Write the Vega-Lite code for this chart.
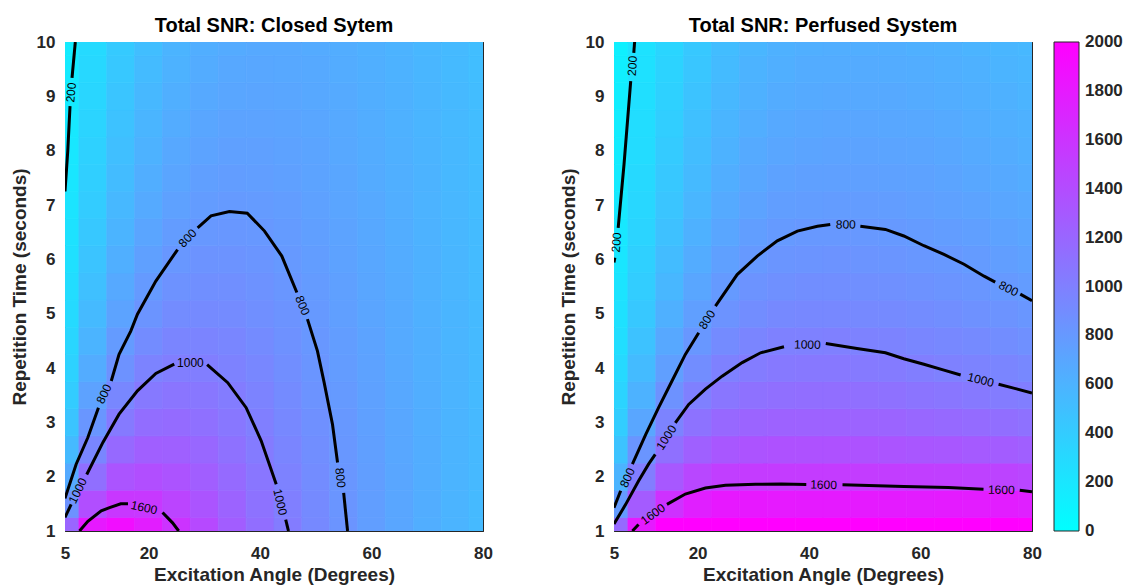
{
"$schema": "https://vega.github.io/schema/vega-lite/v6.json",
"background": "#ffffff",
"padding": {"left": 9, "top": 15, "right": 0, "bottom": 0},
"bounds": "flush",
"spacing": 131,
"datasets": {
"grid": [
{"a":5,"t":1,"c":1211,"p":1180},{"a":10,"t":1,"c":1803,"p":1794},{"a":15,"t":1,"c":1894,"p":2163},{"a":20,"t":1,"c":1774,"p":2297},{"a":25,"t":1,"c":1600,"p":2317},{"a":30,"t":1,"c":1427,"p":2285},{"a":35,"t":1,"c":1273,"p":2247},{"a":40,"t":1,"c":1140,"p":2239},{"a":45,"t":1,"c":1025,"p":2232},{"a":50,"t":1,"c":926,"p":2244},{"a":55,"t":1,"c":840,"p":2241},{"a":60,"t":1,"c":764,"p":2252},{"a":65,"t":1,"c":698,"p":2277},{"a":70,"t":1,"c":639,"p":2288},{"a":75,"t":1,"c":586,"p":2300},{"a":80,"t":1,"c":538,"p":2275},
{"a":5,"t":1.5,"c":857,"p":787},{"a":10,"t":1.5,"c":1385,"p":1287},{"a":15,"t":1.5,"c":1572,"p":1615},{"a":20,"t":1.5,"c":1560,"p":1753},{"a":25,"t":1.5,"c":1464,"p":1808},{"a":30,"t":1.5,"c":1342,"p":1810},{"a":35,"t":1.5,"c":1220,"p":1800},{"a":40,"t":1.5,"c":1107,"p":1798},{"a":45,"t":1.5,"c":1006,"p":1794},{"a":50,"t":1.5,"c":915,"p":1796},{"a":55,"t":1.5,"c":835,"p":1788},{"a":60,"t":1.5,"c":764,"p":1783},{"a":65,"t":1.5,"c":700,"p":1785},{"a":70,"t":1.5,"c":643,"p":1779},{"a":75,"t":1.5,"c":591,"p":1773},{"a":80,"t":1.5,"c":543,"p":1749},
{"a":5,"t":2,"c":665,"p":590},{"a":10,"t":2,"c":1126,"p":1016},{"a":15,"t":2,"c":1344,"p":1313},{"a":20,"t":2,"c":1390,"p":1447},{"a":25,"t":2,"c":1346,"p":1515},{"a":30,"t":2,"c":1263,"p":1535},{"a":35,"t":2,"c":1168,"p":1538},{"a":40,"t":2,"c":1073,"p":1538},{"a":45,"t":2,"c":983,"p":1536},{"a":50,"t":2,"c":901,"p":1533},{"a":55,"t":2,"c":827,"p":1523},{"a":60,"t":2,"c":759,"p":1510},{"a":65,"t":2,"c":698,"p":1502},{"a":70,"t":2,"c":643,"p":1488},{"a":75,"t":2,"c":592,"p":1474},{"a":80,"t":2,"c":546,"p":1451},
{"a":5,"t":2.5,"c":545,"p":472},{"a":10,"t":2.5,"c":950,"p":829},{"a":15,"t":2.5,"c":1174,"p":1118},{"a":20,"t":2.5,"c":1254,"p":1247},{"a":25,"t":2.5,"c":1245,"p":1321},{"a":30,"t":2.5,"c":1191,"p":1350},{"a":35,"t":2.5,"c":1117,"p":1361},{"a":40,"t":2.5,"c":1037,"p":1363},{"a":45,"t":2.5,"c":959,"p":1363},{"a":50,"t":2.5,"c":885,"p":1356},{"a":55,"t":2.5,"c":816,"p":1344},{"a":60,"t":2.5,"c":752,"p":1328},{"a":65,"t":2.5,"c":694,"p":1314},{"a":70,"t":2.5,"c":641,"p":1296},{"a":75,"t":2.5,"c":592,"p":1277},{"a":80,"t":2.5,"c":546,"p":1255},
{"a":5,"t":3,"c":462,"p":393},{"a":10,"t":3,"c":823,"p":699},{"a":15,"t":3,"c":1043,"p":976},{"a":20,"t":3,"c":1142,"p":1104},{"a":25,"t":3,"c":1157,"p":1182},{"a":30,"t":3,"c":1125,"p":1216},{"a":35,"t":3,"c":1069,"p":1232},{"a":40,"t":3,"c":1003,"p":1235},{"a":45,"t":3,"c":935,"p":1235},{"a":50,"t":3,"c":868,"p":1227},{"a":55,"t":3,"c":804,"p":1214},{"a":60,"t":3,"c":745,"p":1196},{"a":65,"t":3,"c":689,"p":1178},{"a":70,"t":3,"c":638,"p":1158},{"a":75,"t":3,"c":590,"p":1136},{"a":80,"t":3,"c":546,"p":1115},
{"a":5,"t":3.5,"c":401,"p":337},{"a":10,"t":3.5,"c":726,"p":605},{"a":15,"t":3.5,"c":939,"p":851},{"a":20,"t":3.5,"c":1048,"p":995},{"a":25,"t":3.5,"c":1081,"p":1075},{"a":30,"t":3.5,"c":1066,"p":1113},{"a":35,"t":3.5,"c":1025,"p":1132},{"a":40,"t":3.5,"c":970,"p":1136},{"a":45,"t":3.5,"c":911,"p":1137},{"a":50,"t":3.5,"c":850,"p":1127},{"a":55,"t":3.5,"c":792,"p":1114},{"a":60,"t":3.5,"c":736,"p":1094},{"a":65,"t":3.5,"c":683,"p":1074},{"a":70,"t":3.5,"c":634,"p":1052},{"a":75,"t":3.5,"c":588,"p":1029},{"a":80,"t":3.5,"c":545,"p":1009},
{"a":5,"t":4,"c":355,"p":295},{"a":10,"t":4,"c":650,"p":534},{"a":15,"t":4,"c":854,"p":755},{"a":20,"t":4,"c":969,"p":896},{"a":25,"t":4,"c":1014,"p":989},{"a":30,"t":4,"c":1013,"p":1031},{"a":35,"t":4,"c":984,"p":1052},{"a":40,"t":4,"c":939,"p":1057},{"a":45,"t":4,"c":888,"p":1058},{"a":50,"t":4,"c":833,"p":1047},{"a":55,"t":4,"c":779,"p":1034},{"a":60,"t":4,"c":727,"p":1013},{"a":65,"t":4,"c":677,"p":992},{"a":70,"t":4,"c":629,"p":973},{"a":75,"t":4,"c":585,"p":953},{"a":80,"t":4,"c":543,"p":934},
{"a":5,"t":4.5,"c":319,"p":262},{"a":10,"t":4.5,"c":589,"p":478},{"a":15,"t":4.5,"c":784,"p":679},{"a":20,"t":4.5,"c":901,"p":817},{"a":25,"t":4.5,"c":956,"p":911},{"a":30,"t":4.5,"c":965,"p":960},{"a":35,"t":4.5,"c":946,"p":985},{"a":40,"t":4.5,"c":910,"p":991},{"a":45,"t":4.5,"c":866,"p":993},{"a":50,"t":4.5,"c":817,"p":982},{"a":55,"t":4.5,"c":767,"p":970},{"a":60,"t":4.5,"c":718,"p":952},{"a":65,"t":4.5,"c":670,"p":933},{"a":70,"t":4.5,"c":625,"p":914},{"a":75,"t":4.5,"c":582,"p":894},{"a":80,"t":4.5,"c":541,"p":874},
{"a":5,"t":5,"c":289,"p":236},{"a":10,"t":5,"c":539,"p":433},{"a":15,"t":5,"c":724,"p":618},{"a":20,"t":5,"c":842,"p":751},{"a":25,"t":5,"c":903,"p":846},{"a":30,"t":5,"c":921,"p":898},{"a":35,"t":5,"c":911,"p":925},{"a":40,"t":5,"c":882,"p":934},{"a":45,"t":5,"c":844,"p":936},{"a":50,"t":5,"c":800,"p":928},{"a":55,"t":5,"c":754,"p":918},{"a":60,"t":5,"c":708,"p":901},{"a":65,"t":5,"c":663,"p":884},{"a":70,"t":5,"c":620,"p":864},{"a":75,"t":5,"c":578,"p":844},{"a":80,"t":5,"c":539,"p":823},
{"a":5,"t":5.5,"c":265,"p":215},{"a":10,"t":5.5,"c":496,"p":396},{"a":15,"t":5.5,"c":673,"p":567},{"a":20,"t":5.5,"c":790,"p":696},{"a":25,"t":5.5,"c":856,"p":790},{"a":30,"t":5.5,"c":880,"p":845},{"a":35,"t":5.5,"c":877,"p":874},{"a":40,"t":5.5,"c":856,"p":885},{"a":45,"t":5.5,"c":823,"p":888},{"a":50,"t":5.5,"c":784,"p":882},{"a":55,"t":5.5,"c":742,"p":873},{"a":60,"t":5.5,"c":699,"p":857},{"a":65,"t":5.5,"c":656,"p":841},{"a":70,"t":5.5,"c":615,"p":821},{"a":75,"t":5.5,"c":574,"p":802},{"a":80,"t":5.5,"c":536,"p":779},
{"a":5,"t":6,"c":244,"p":197},{"a":10,"t":6,"c":460,"p":365},{"a":15,"t":6,"c":629,"p":524},{"a":20,"t":6,"c":745,"p":649},{"a":25,"t":6,"c":813,"p":743},{"a":30,"t":6,"c":844,"p":799},{"a":35,"t":6,"c":846,"p":830},{"a":40,"t":6,"c":831,"p":842},{"a":45,"t":6,"c":803,"p":846},{"a":50,"t":6,"c":768,"p":842},{"a":55,"t":6,"c":730,"p":834},{"a":60,"t":6,"c":689,"p":819},{"a":65,"t":6,"c":649,"p":804},{"a":70,"t":6,"c":609,"p":784},{"a":75,"t":6,"c":570,"p":764},{"a":80,"t":6,"c":533,"p":741},
{"a":5,"t":6.5,"c":227,"p":182},{"a":10,"t":6.5,"c":429,"p":338},{"a":15,"t":6.5,"c":590,"p":488},{"a":20,"t":6.5,"c":705,"p":609},{"a":25,"t":6.5,"c":775,"p":701},{"a":30,"t":6.5,"c":810,"p":759},{"a":35,"t":6.5,"c":818,"p":791},{"a":40,"t":6.5,"c":807,"p":805},{"a":45,"t":6.5,"c":784,"p":809},{"a":50,"t":6.5,"c":753,"p":807},{"a":55,"t":6.5,"c":718,"p":800},{"a":60,"t":6.5,"c":680,"p":785},{"a":65,"t":6.5,"c":642,"p":770},{"a":70,"t":6.5,"c":604,"p":750},{"a":75,"t":6.5,"c":566,"p":730},{"a":80,"t":6.5,"c":530,"p":708},
{"a":5,"t":7,"c":212,"p":169},{"a":10,"t":7,"c":403,"p":315},{"a":15,"t":7,"c":557,"p":456},{"a":20,"t":7,"c":669,"p":574},{"a":25,"t":7,"c":741,"p":665},{"a":30,"t":7,"c":780,"p":723},{"a":35,"t":7,"c":792,"p":757},{"a":40,"t":7,"c":786,"p":772},{"a":45,"t":7,"c":767,"p":776},{"a":50,"t":7,"c":739,"p":775},{"a":55,"t":7,"c":707,"p":769},{"a":60,"t":7,"c":672,"p":754},{"a":65,"t":7,"c":636,"p":739},{"a":70,"t":7,"c":599,"p":720},{"a":75,"t":7,"c":563,"p":700},{"a":80,"t":7,"c":528,"p":679},
{"a":5,"t":7.5,"c":199,"p":157},{"a":10,"t":7.5,"c":379,"p":296},{"a":15,"t":7.5,"c":526,"p":429},{"a":20,"t":7.5,"c":636,"p":543},{"a":25,"t":7.5,"c":709,"p":632},{"a":30,"t":7.5,"c":750,"p":691},{"a":35,"t":7.5,"c":766,"p":726},{"a":40,"t":7.5,"c":764,"p":742},{"a":45,"t":7.5,"c":748,"p":747},{"a":50,"t":7.5,"c":724,"p":746},{"a":55,"t":7.5,"c":695,"p":740},{"a":60,"t":7.5,"c":662,"p":727},{"a":65,"t":7.5,"c":628,"p":712},{"a":70,"t":7.5,"c":593,"p":693},{"a":75,"t":7.5,"c":558,"p":674},{"a":80,"t":7.5,"c":524,"p":653},
{"a":5,"t":8,"c":187,"p":148},{"a":10,"t":8,"c":358,"p":278},{"a":15,"t":8,"c":499,"p":404},{"a":20,"t":8,"c":607,"p":516},{"a":25,"t":8,"c":680,"p":604},{"a":30,"t":8,"c":723,"p":663},{"a":35,"t":8,"c":742,"p":698},{"a":40,"t":8,"c":744,"p":715},{"a":45,"t":8,"c":732,"p":720},{"a":50,"t":8,"c":711,"p":720},{"a":55,"t":8,"c":684,"p":715},{"a":60,"t":8,"c":654,"p":702},{"a":65,"t":8,"c":621,"p":688},{"a":70,"t":8,"c":588,"p":669},{"a":75,"t":8,"c":554,"p":650},{"a":80,"t":8,"c":521,"p":629},
{"a":5,"t":8.5,"c":177,"p":139},{"a":10,"t":8.5,"c":339,"p":263},{"a":15,"t":8.5,"c":475,"p":383},{"a":20,"t":8.5,"c":580,"p":491},{"a":25,"t":8.5,"c":653,"p":578},{"a":30,"t":8.5,"c":698,"p":637},{"a":35,"t":8.5,"c":720,"p":674},{"a":40,"t":8.5,"c":725,"p":691},{"a":45,"t":8.5,"c":716,"p":696},{"a":50,"t":8.5,"c":698,"p":696},{"a":55,"t":8.5,"c":673,"p":692},{"a":60,"t":8.5,"c":645,"p":679},{"a":65,"t":8.5,"c":614,"p":666},{"a":70,"t":8.5,"c":583,"p":647},{"a":75,"t":8.5,"c":550,"p":628},{"a":80,"t":8.5,"c":518,"p":608},
{"a":5,"t":9,"c":168,"p":131},{"a":10,"t":9,"c":322,"p":249},{"a":15,"t":9,"c":453,"p":364},{"a":20,"t":9,"c":556,"p":469},{"a":25,"t":9,"c":629,"p":554},{"a":30,"t":9,"c":676,"p":614},{"a":35,"t":9,"c":700,"p":651},{"a":40,"t":9,"c":707,"p":669},{"a":45,"t":9,"c":701,"p":674},{"a":50,"t":9,"c":685,"p":675},{"a":55,"t":9,"c":663,"p":671},{"a":60,"t":9,"c":637,"p":659},{"a":65,"t":9,"c":608,"p":646},{"a":70,"t":9,"c":578,"p":627},{"a":75,"t":9,"c":546,"p":608},{"a":80,"t":9,"c":515,"p":588},
{"a":5,"t":9.5,"c":160,"p":124},{"a":10,"t":9.5,"c":307,"p":237},{"a":15,"t":9.5,"c":434,"p":347},{"a":20,"t":9.5,"c":534,"p":449},{"a":25,"t":9.5,"c":606,"p":533},{"a":30,"t":9.5,"c":654,"p":593},{"a":35,"t":9.5,"c":680,"p":630},{"a":40,"t":9.5,"c":690,"p":648},{"a":45,"t":9.5,"c":686,"p":654},{"a":50,"t":9.5,"c":673,"p":655},{"a":55,"t":9.5,"c":653,"p":652},{"a":60,"t":9.5,"c":629,"p":640},{"a":65,"t":9.5,"c":601,"p":627},{"a":70,"t":9.5,"c":572,"p":609},{"a":75,"t":9.5,"c":542,"p":590},{"a":80,"t":9.5,"c":512,"p":570},
{"a":5,"t":10,"c":152,"p":118},{"a":10,"t":10,"c":293,"p":226},{"a":15,"t":10,"c":415,"p":331},{"a":20,"t":10,"c":513,"p":431},{"a":25,"t":10,"c":585,"p":514},{"a":30,"t":10,"c":634,"p":573},{"a":35,"t":10,"c":662,"p":611},{"a":40,"t":10,"c":673,"p":630},{"a":45,"t":10,"c":672,"p":636},{"a":50,"t":10,"c":661,"p":637},{"a":55,"t":10,"c":643,"p":634},{"a":60,"t":10,"c":620,"p":622},{"a":65,"t":10,"c":595,"p":610},{"a":70,"t":10,"c":567,"p":592},{"a":75,"t":10,"c":538,"p":574},{"a":80,"t":10,"c":508,"p":554}
],
"lines": [
{"p":"C","s":"C200a","a":5,"t":7.25},{"p":"C","s":"C200a","a":5.5,"t":8.0},{"p":"C","s":"C200a","a":5.9,"t":8.82},
{"p":"C","s":"C200b","a":6.26,"t":9.34},{"p":"C","s":"C200b","a":6.85,"t":10},
{"p":"C","s":"C800a","a":5,"t":1.6},{"p":"C","s":"C800a","a":7.0,"t":2.23},{"p":"C","s":"C800a","a":9.1,"t":2.72},{"p":"C","s":"C800a","a":11.0,"t":3.27},
{"p":"C","s":"C800b","a":13.3,"t":3.76},{"p":"C","s":"C800b","a":14.7,"t":4.25},{"p":"C","s":"C800b","a":16.8,"t":4.68},{"p":"C","s":"C800b","a":18.0,"t":4.99},{"p":"C","s":"C800b","a":21.3,"t":5.6},{"p":"C","s":"C800b","a":25.2,"t":6.18},
{"p":"C","s":"C800c","a":28.8,"t":6.58},{"p":"C","s":"C800c","a":31.2,"t":6.8},{"p":"C","s":"C800c","a":34.5,"t":6.88},{"p":"C","s":"C800c","a":37.7,"t":6.85},{"p":"C","s":"C800c","a":40.8,"t":6.52},{"p":"C","s":"C800c","a":43.9,"t":6.06},{"p":"C","s":"C800c","a":46.6,"t":5.39},
{"p":"C","s":"C800d","a":48.5,"t":4.9},{"p":"C","s":"C800d","a":50.3,"t":4.31},{"p":"C","s":"C800d","a":51.5,"t":3.73},{"p":"C","s":"C800d","a":53.0,"t":2.96},{"p":"C","s":"C800d","a":53.9,"t":2.26},
{"p":"C","s":"C800e","a":55.0,"t":1.7},{"p":"C","s":"C800e","a":55.7,"t":1.0},
{"p":"C","s":"C1000a","a":5,"t":1.25},{"p":"C","s":"C1000a","a":6.1,"t":1.49},
{"p":"C","s":"C1000b","a":8.9,"t":2.04},{"p":"C","s":"C1000b","a":11.8,"t":2.63},{"p":"C","s":"C1000b","a":14.7,"t":3.15},{"p":"C","s":"C1000b","a":18.0,"t":3.58},{"p":"C","s":"C1000b","a":21.3,"t":3.9},{"p":"C","s":"C1000b","a":24.6,"t":4.07},
{"p":"C","s":"C1000c","a":30.5,"t":4.06},{"p":"C","s":"C1000c","a":34.2,"t":3.73},{"p":"C","s":"C1000c","a":37.5,"t":3.27},{"p":"C","s":"C1000c","a":40.2,"t":2.66},{"p":"C","s":"C1000c","a":42.9,"t":1.86},
{"p":"C","s":"C1000d","a":44.6,"t":1.21},{"p":"C","s":"C1000d","a":45.1,"t":1.0},
{"p":"C","s":"C1600a","a":7.6,"t":1.0},{"p":"C","s":"C1600a","a":9.1,"t":1.18},{"p":"C","s":"C1600a","a":11.5,"t":1.37},{"p":"C","s":"C1600a","a":13.0,"t":1.43},{"p":"C","s":"C1600a","a":15.0,"t":1.5},{"p":"C","s":"C1600a","a":16.3,"t":1.5},
{"p":"C","s":"C1600b","a":22.5,"t":1.34},{"p":"C","s":"C1600b","a":24.3,"t":1.15},{"p":"C","s":"C1600b","a":25.4,"t":1.0},
{"p":"P","s":"P200a","a":5,"t":5.94},{"p":"P","s":"P200a","a":5.15,"t":6.03},
{"p":"P","s":"P200b","a":5.75,"t":6.58},{"p":"P","s":"P200b","a":6.8,"t":7.75},{"p":"P","s":"P200b","a":8.0,"t":9.28},
{"p":"P","s":"P200c","a":8.55,"t":9.8},{"p":"P","s":"P200c","a":8.7,"t":10},
{"p":"P","s":"P800a","a":5,"t":1.43},{"p":"P","s":"P800a","a":6.2,"t":1.74},
{"p":"P","s":"P800b","a":8.3,"t":2.23},{"p":"P","s":"P800b","a":10.7,"t":2.78},{"p":"P","s":"P800b","a":13.0,"t":3.27},{"p":"P","s":"P800b","a":15.4,"t":3.76},{"p":"P","s":"P800b","a":17.8,"t":4.25},{"p":"P","s":"P800b","a":20.2,"t":4.65},
{"p":"P","s":"P800c","a":23.2,"t":5.14},{"p":"P","s":"P800c","a":27.1,"t":5.72},{"p":"P","s":"P800c","a":30.7,"t":6.06},{"p":"P","s":"P800c","a":34.3,"t":6.34},{"p":"P","s":"P800c","a":37.9,"t":6.52},{"p":"P","s":"P800c","a":41.5,"t":6.61},{"p":"P","s":"P800c","a":43.8,"t":6.64},
{"p":"P","s":"P800d","a":49.2,"t":6.61},{"p":"P","s":"P800d","a":53.7,"t":6.55},{"p":"P","s":"P800d","a":57.0,"t":6.43},{"p":"P","s":"P800d","a":60.6,"t":6.25},{"p":"P","s":"P800d","a":64.2,"t":6.09},{"p":"P","s":"P800d","a":67.8,"t":5.91},{"p":"P","s":"P800d","a":71.4,"t":5.69},{"p":"P","s":"P800d","a":73.4,"t":5.58},
{"p":"P","s":"P800e","a":77.9,"t":5.36},{"p":"P","s":"P800e","a":80,"t":5.24},
{"p":"P","s":"P1000a","a":5,"t":1.13},{"p":"P","s":"P1000a","a":7.1,"t":1.49},{"p":"P","s":"P1000a","a":9.4,"t":1.92},{"p":"P","s":"P1000a","a":11.2,"t":2.23},{"p":"P","s":"P1000a","a":12.4,"t":2.41},
{"p":"P","s":"P1000b","a":16.0,"t":2.99},{"p":"P","s":"P1000b","a":18.4,"t":3.33},{"p":"P","s":"P1000b","a":21.4,"t":3.61},{"p":"P","s":"P1000b","a":24.4,"t":3.85},{"p":"P","s":"P1000b","a":28.0,"t":4.1},{"p":"P","s":"P1000b","a":31.3,"t":4.28},{"p":"P","s":"P1000b","a":35.5,"t":4.39},
{"p":"P","s":"P1000c","a":43.0,"t":4.45},{"p":"P","s":"P1000c","a":48.6,"t":4.36},{"p":"P","s":"P1000c","a":53.7,"t":4.28},{"p":"P","s":"P1000c","a":57.0,"t":4.17},{"p":"P","s":"P1000c","a":60.6,"t":4.07},{"p":"P","s":"P1000c","a":64.2,"t":3.96},{"p":"P","s":"P1000c","a":67.2,"t":3.87},
{"p":"P","s":"P1000d","a":74.0,"t":3.7},{"p":"P","s":"P1000d","a":76.7,"t":3.63},{"p":"P","s":"P1000d","a":80,"t":3.54},
{"p":"P","s":"P1600a","a":8.3,"t":1.0},{"p":"P","s":"P1600a","a":9.4,"t":1.12},
{"p":"P","s":"P1600b","a":14.5,"t":1.49},{"p":"P","s":"P1600b","a":17.8,"t":1.68},{"p":"P","s":"P1600b","a":21.4,"t":1.79},{"p":"P","s":"P1600b","a":25.0,"t":1.84},{"p":"P","s":"P1600b","a":30.4,"t":1.86},{"p":"P","s":"P1600b","a":35.0,"t":1.865},{"p":"P","s":"P1600b","a":39.5,"t":1.855},
{"p":"P","s":"P1600c","a":46.0,"t":1.85},{"p":"P","s":"P1600c","a":57.0,"t":1.82},{"p":"P","s":"P1600c","a":65.0,"t":1.8},{"p":"P","s":"P1600c","a":71.3,"t":1.77},
{"p":"P","s":"P1600d","a":77.8,"t":1.75},{"p":"P","s":"P1600d","a":80,"t":1.72}
],
"labels": [
{"p":"C","id":"L1","lev":200,"a":6.1,"t":9.07},
{"p":"C","id":"L2","lev":800,"a":12.0,"t":3.52},
{"p":"C","id":"L3","lev":800,"a":27.0,"t":6.39},
{"p":"C","id":"L4","lev":800,"a":47.6,"t":5.15},
{"p":"C","id":"L5","lev":800,"a":54.4,"t":1.98},
{"p":"C","id":"L6","lev":1000,"a":7.3,"t":1.74},
{"p":"C","id":"L7","lev":1000,"a":27.5,"t":4.09},
{"p":"C","id":"L8","lev":1000,"a":43.6,"t":1.53},
{"p":"C","id":"L9","lev":1600,"a":19.2,"t":1.43},
{"p":"P","id":"R1","lev":200,"a":8.3,"t":9.56},
{"p":"P","id":"R2","lev":200,"a":5.45,"t":6.31},
{"p":"P","id":"R3","lev":800,"a":7.4,"t":1.98},
{"p":"P","id":"R4","lev":800,"a":21.7,"t":4.89},
{"p":"P","id":"R5","lev":800,"a":46.6,"t":6.64},
{"p":"P","id":"R6","lev":800,"a":75.8,"t":5.46},
{"p":"P","id":"R7","lev":1000,"a":14.4,"t":2.72},
{"p":"P","id":"R8","lev":1000,"a":39.7,"t":4.43},
{"p":"P","id":"R9","lev":1000,"a":70.8,"t":3.78},
{"p":"P","id":"R10","lev":1600,"a":12.0,"t":1.31},
{"p":"P","id":"R11","lev":1600,"a":42.6,"t":1.85},
{"p":"P","id":"R12","lev":1600,"a":74.5,"t":1.755}
]
},
"hconcat": [
{
"title": "Total SNR: Closed Sytem",
"width": 418, "height": 489,
"layer": [
{
"data": {"name": "grid"},
"transform": [
{"bin": {"extent": [2.5, 82.5], "step": 5, "nice": false}, "field": "a", "as": ["a0", "a1"]},
{"bin": {"extent": [0.75, 10.25], "step": 0.5, "nice": false}, "field": "t", "as": ["t0", "t1"]}
],
"mark": {"type": "rect", "clip": true, "strokeWidth": 0.7},
"encoding": {
"x": {"field": "a0", "type": "quantitative", "scale": {"domain": [5, 80], "nice": false, "zero": false}, "axis": {"values": [5, 20, 40, 60, 80], "title": "Excitation Angle (Degrees)"}},
"x2": {"field": "a1"},
"y": {"field": "t0", "type": "quantitative", "scale": {"domain": [1, 10], "nice": false, "zero": false}, "axis": {"values": [1, 2, 3, 4, 5, 6, 7, 8, 9, 10], "title": "Repetition Time (seconds)"}},
"y2": {"field": "t1"},
"fill": {"field": "c", "type": "quantitative", "scale": {"domain": [0, 2000], "range": ["#00ffff", "#ff00ff"], "interpolate": "rgb", "clamp": true}, "legend": null},
"stroke": {"field": "c", "type": "quantitative", "scale": {"domain": [0, 2000.01], "range": ["#00ffff", "#ff00ff"], "interpolate": "rgb", "clamp": true}, "legend": null}
}
},
{
"data": {"name": "lines"},
"transform": [{"filter": "datum.p == 'C'"}],
"mark": {"type": "line", "color": "#000000", "strokeWidth": 3, "clip": true},
"encoding": {
"x": {"field": "a", "type": "quantitative", "scale": {"domain": [5, 80], "nice": false, "zero": false}, "axis": {"orient": "top", "values": [5, 20, 40, 60, 80], "labels": false, "title": null, "minExtent": 0, "maxExtent": 0}},
"y": {"field": "t", "type": "quantitative", "scale": {"domain": [1, 10], "nice": false, "zero": false}, "axis": {"orient": "right", "values": [1, 2, 3, 4, 5, 6, 7, 8, 9, 10], "labels": false, "title": null, "minExtent": 0, "maxExtent": 0}},
"detail": {"field": "s", "type": "nominal"}
}
},
{
"data": {"name": "labels"},
"transform": [{"filter": "datum.p == 'C'"}],
"encoding": {
"x": {"field": "a", "type": "quantitative", "scale": {"domain": [5, 80], "nice": false, "zero": false}, "axis": null},
"y": {"field": "t", "type": "quantitative", "scale": {"domain": [1, 10], "nice": false, "zero": false}, "axis": null},
"text": {"field": "lev", "type": "nominal"}
},
"layer": [
{"transform": [{"filter": {"field": "id", "oneOf": ["L1"]}}], "mark": {"type": "text", "angle": -85, "fontSize": 12, "font": "Liberation Sans", "color": "#000000", "align": "center", "baseline": "middle"}},
{"transform": [{"filter": {"field": "id", "oneOf": ["L2", "L6"]}}], "mark": {"type": "text", "angle": -64, "fontSize": 12, "font": "Liberation Sans", "color": "#000000", "align": "center", "baseline": "middle"}},
{"transform": [{"filter": {"field": "id", "oneOf": ["L3"]}}], "mark": {"type": "text", "angle": -46, "fontSize": 12, "font": "Liberation Sans", "color": "#000000", "align": "center", "baseline": "middle"}},
{"transform": [{"filter": {"field": "id", "oneOf": ["L4"]}}], "mark": {"type": "text", "angle": 68, "fontSize": 12, "font": "Liberation Sans", "color": "#000000", "align": "center", "baseline": "middle"}},
{"transform": [{"filter": {"field": "id", "oneOf": ["L5"]}}], "mark": {"type": "text", "angle": 84, "fontSize": 12, "font": "Liberation Sans", "color": "#000000", "align": "center", "baseline": "middle"}},
{"transform": [{"filter": {"field": "id", "oneOf": ["L7"]}}], "mark": {"type": "text", "angle": 0, "fontSize": 12, "font": "Liberation Sans", "color": "#000000", "align": "center", "baseline": "middle"}},
{"transform": [{"filter": {"field": "id", "oneOf": ["L8"]}}], "mark": {"type": "text", "angle": 77, "fontSize": 12, "font": "Liberation Sans", "color": "#000000", "align": "center", "baseline": "middle"}},
{"transform": [{"filter": {"field": "id", "oneOf": ["L9"]}}], "mark": {"type": "text", "angle": 12, "fontSize": 12, "font": "Liberation Sans", "color": "#000000", "align": "center", "baseline": "middle"}}
]
}
],
"resolve": {"axis": {"x": "independent", "y": "independent"}}
},
{
"title": "Total SNR: Perfused System",
"width": 418, "height": 489,
"layer": [
{
"data": {"name": "grid"},
"transform": [
{"bin": {"extent": [2.5, 82.5], "step": 5, "nice": false}, "field": "a", "as": ["a0", "a1"]},
{"bin": {"extent": [0.75, 10.25], "step": 0.5, "nice": false}, "field": "t", "as": ["t0", "t1"]}
],
"mark": {"type": "rect", "clip": true, "strokeWidth": 0.7},
"encoding": {
"x": {"field": "a0", "type": "quantitative", "scale": {"domain": [5, 80], "nice": false, "zero": false}, "axis": {"values": [5, 20, 40, 60, 80], "title": "Excitation Angle (Degrees)"}},
"x2": {"field": "a1"},
"y": {"field": "t0", "type": "quantitative", "scale": {"domain": [1, 10], "nice": false, "zero": false}, "axis": {"values": [1, 2, 3, 4, 5, 6, 7, 8, 9, 10], "title": "Repetition Time (seconds)"}},
"y2": {"field": "t1"},
"fill": {"field": "p", "type": "quantitative", "scale": {"domain": [0, 2000], "range": ["#00ffff", "#ff00ff"], "interpolate": "rgb", "clamp": true}, "legend": {"type": "gradient", "orient": "right", "title": null, "direction": "vertical", "gradientLength": 489, "gradientThickness": 25, "values": [0, 200, 400, 600, 800, 1000, 1200, 1400, 1600, 1800, 2000], "format": "d", "labelFont": "Liberation Sans", "labelFontSize": 17, "labelFontWeight": "bold", "labelColor": "#262626", "labelBaseline": "middle", "labelOffset": 6, "labelOverlap": false, "gradientStrokeColor": "#262626", "gradientStrokeWidth": 1, "offset": 21, "padding": 0, "encode": {"labels": {"update": {"y": {"signal": "(1 - datum.perc) * 489"}, "baseline": {"value": "middle"}}}}}},
"stroke": {"field": "p", "type": "quantitative", "scale": {"domain": [0, 2000.01], "range": ["#00ffff", "#ff00ff"], "interpolate": "rgb", "clamp": true}, "legend": null}
}
},
{
"data": {"name": "lines"},
"transform": [{"filter": "datum.p == 'P'"}],
"mark": {"type": "line", "color": "#000000", "strokeWidth": 3, "clip": true},
"encoding": {
"x": {"field": "a", "type": "quantitative", "scale": {"domain": [5, 80], "nice": false, "zero": false}, "axis": {"orient": "top", "values": [5, 20, 40, 60, 80], "labels": false, "title": null, "minExtent": 0, "maxExtent": 0}},
"y": {"field": "t", "type": "quantitative", "scale": {"domain": [1, 10], "nice": false, "zero": false}, "axis": {"orient": "right", "values": [1, 2, 3, 4, 5, 6, 7, 8, 9, 10], "labels": false, "title": null, "minExtent": 0, "maxExtent": 0}},
"detail": {"field": "s", "type": "nominal"}
}
},
{
"data": {"name": "labels"},
"transform": [{"filter": "datum.p == 'P'"}],
"encoding": {
"x": {"field": "a", "type": "quantitative", "scale": {"domain": [5, 80], "nice": false, "zero": false}, "axis": null},
"y": {"field": "t", "type": "quantitative", "scale": {"domain": [1, 10], "nice": false, "zero": false}, "axis": null},
"text": {"field": "lev", "type": "nominal"}
},
"layer": [
{"transform": [{"filter": {"field": "id", "oneOf": ["R1", "R2"]}}], "mark": {"type": "text", "angle": -86, "fontSize": 12, "font": "Liberation Sans", "color": "#000000", "align": "center", "baseline": "middle"}},
{"transform": [{"filter": {"field": "id", "oneOf": ["R3"]}}], "mark": {"type": "text", "angle": -66, "fontSize": 12, "font": "Liberation Sans", "color": "#000000", "align": "center", "baseline": "middle"}},
{"transform": [{"filter": {"field": "id", "oneOf": ["R4", "R7"]}}], "mark": {"type": "text", "angle": -57, "fontSize": 12, "font": "Liberation Sans", "color": "#000000", "align": "center", "baseline": "middle"}},
{"transform": [{"filter": {"field": "id", "oneOf": ["R5", "R8", "R11", "R12"]}}], "mark": {"type": "text", "angle": 1, "fontSize": 12, "font": "Liberation Sans", "color": "#000000", "align": "center", "baseline": "middle"}},
{"transform": [{"filter": {"field": "id", "oneOf": ["R6"]}}], "mark": {"type": "text", "angle": 27, "fontSize": 12, "font": "Liberation Sans", "color": "#000000", "align": "center", "baseline": "middle"}},
{"transform": [{"filter": {"field": "id", "oneOf": ["R9"]}}], "mark": {"type": "text", "angle": 14, "fontSize": 12, "font": "Liberation Sans", "color": "#000000", "align": "center", "baseline": "middle"}},
{"transform": [{"filter": {"field": "id", "oneOf": ["R10"]}}], "mark": {"type": "text", "angle": -36, "fontSize": 12, "font": "Liberation Sans", "color": "#000000", "align": "center", "baseline": "middle"}}
]
}
],
"resolve": {"axis": {"x": "independent", "y": "independent"}}
}
],
"resolve": {"scale": {"fill": "independent", "stroke": "independent"}, "legend": {"fill": "independent", "stroke": "independent"}},
"config": {
"font": "Liberation Sans",
"view": {"stroke": "#262626", "strokeWidth": 1},
"axis": {"labelFont": "Liberation Sans", "labelFontSize": 17, "labelFontWeight": "bold", "labelColor": "#262626", "titleFont": "Liberation Sans", "titleFontSize": 19, "titleFontWeight": "bold", "titleColor": "#262626", "tickColor": "#262626", "tickSize": -5, "tickWidth": 1, "domain": false, "grid": false, "labelFlush": false, "labelOverlap": false},
"axisX": {"labelPadding": 19, "titlePadding": 4},
"axisY": {"labelPadding": 15, "titlePadding": 7},
"title": {"font": "Liberation Sans", "fontSize": 20, "fontWeight": "bold", "color": "#000000", "offset": -3}
}
}
